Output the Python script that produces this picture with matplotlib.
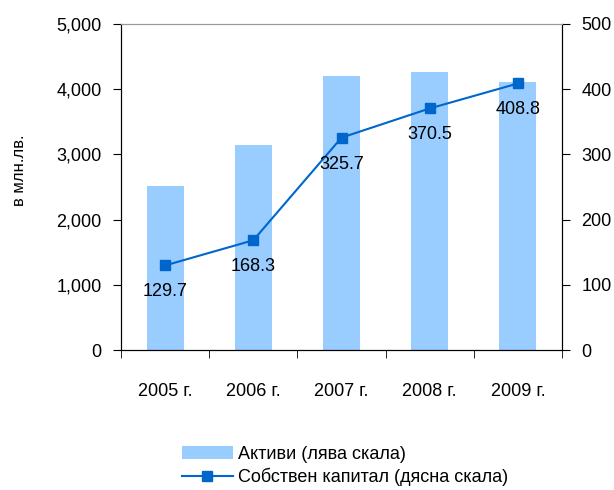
import matplotlib.pyplot as plt
import numpy as np

plt.rcParams['font.family'] = ['Liberation Sans', 'DejaVu Sans']

# data
years = ['2005 г.', '2006 г.', '2007 г.', '2008 г.', '2009 г.']
assets = [2515, 3145, 4205, 4265, 4115]
equity = [129.7, 168.3, 325.7, 370.5, 408.8]

bar_color = '#99CCFF'
line_color = '#0066CC'

fig = plt.figure(figsize=(6.14, 4.9), dpi=100)
ax = fig.add_axes([121 / 614, 1 - 350 / 490, 441 / 614, 326 / 490])
x = np.arange(len(years))

ax.bar(x, assets, width=0.42, color=bar_color, zorder=1, label='Активи (лява скала)')
ax.set_xlim(-0.5, len(years) - 0.5)
ax.set_ylim(0, 5000)
ax.set_yticks(range(0, 5001, 1000))
ax.set_yticklabels(['{:,}'.format(v) for v in range(0, 5001, 1000)], fontsize=13)
ax.set_xticks(x)
ax.set_xticklabels(years, fontsize=13)
ax.tick_params(axis='x', length=0, pad=24)
ax.set_xticks(np.arange(-0.5, len(years), 1), minor=True)
ax.tick_params(axis='x', which='minor', length=6, direction='out')
ax.tick_params(axis='y', length=6, direction='out', pad=8)
ax.spines['top'].set_color('#999999')
ax.set_ylabel('в млн.лв.', fontsize=12)
ax.yaxis.set_label_coords(-0.213, 0.55)

ax2 = ax.twinx()
ax2.plot(x, equity, color=line_color, marker='s', markersize=7, linewidth=1.5,
         label='Собствен капитал (дясна скала)')
ax2.set_ylim(0, 500)
ax2.set_yticks(range(0, 501, 100))
ax2.tick_params(axis='y', length=6, direction='out', labelsize=13, pad=8)
ax2.spines['top'].set_color('#999999')
for xi, v in zip(x, equity):
    ax2.annotate('{:.1f}'.format(v), (xi, v), xytext=(0, -19), textcoords='offset points',
                 ha='center', va='center', fontsize=13)

h1, l1 = ax.get_legend_handles_labels()
h2, l2 = ax2.get_legend_handles_labels()
fig.legend(h1 + h2, l1 + l2, loc='center left', bbox_to_anchor=(182 / 614, 1 - 466 / 490),
           frameon=False, fontsize=13, handlelength=2.8, handletextpad=0.3,
           labelspacing=0.25, borderpad=0, borderaxespad=0)

fig.savefig('out.png', dpi=100)
